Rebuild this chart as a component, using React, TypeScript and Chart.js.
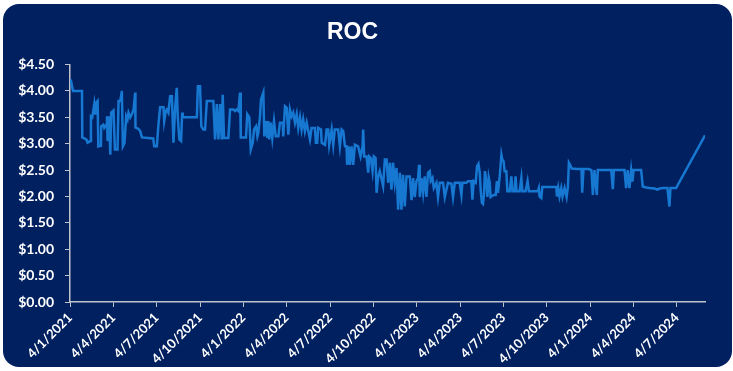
import React, { useEffect, useRef } from "react";
import { Chart, registerables } from "chart.js";

Chart.register(...registerables);

// x positions: months since 4/1/2021 (d/m/yyyy)
const monthOffsets: number[] = [
  0.05, 0.21, 0.83, 0.85, 1.13, 1.22, 1.40, 1.45, 1.54, 1.68,
  1.75, 1.82, 1.91, 1.96, 2.14, 2.16, 2.30, 2.37, 2.51, 2.56,
  2.60, 2.70, 2.79, 2.85, 3.01, 3.11, 3.29, 3.36, 3.48, 3.59,
  3.66, 3.77, 3.89, 3.98, 4.05, 4.17, 4.28, 4.40, 4.51, 4.53,
  4.74, 4.86, 4.98, 5.76, 5.83, 6.01, 6.12, 6.24, 6.47, 6.52,
  6.63, 6.70, 6.81, 6.93, 7.05, 7.16, 7.28, 7.39, 7.46, 7.57,
  7.69, 7.76, 7.81, 8.78, 8.85, 9.00, 9.09, 9.23, 9.35, 9.47,
  9.92, 10.04, 10.16, 10.27, 10.39, 10.50, 10.57, 10.66, 10.96, 11.08,
  11.31, 11.42, 11.54, 11.65, 11.77, 11.82, 12.18, 12.27, 12.41, 12.51,
  12.65, 12.74, 12.88, 12.97, 13.03, 13.15, 13.22, 13.38, 13.45, 13.57,
  13.66, 13.73, 13.79, 13.89, 14.00, 14.12, 14.24, 14.42, 14.53, 14.72,
  14.76, 14.88, 15.00, 15.11, 15.22, 15.34, 15.45, 15.57, 15.69, 15.80,
  15.92, 16.03, 16.14, 16.26, 16.38, 16.61, 16.72, 16.95, 17.02, 17.11,
  17.18, 17.37, 17.42, 17.65, 17.76, 17.87, 17.94, 18.11, 18.22, 18.33,
  18.56, 18.68, 18.80, 18.91, 19.03, 19.14, 19.18, 19.28, 19.37, 19.49,
  19.60, 19.72, 19.94, 20.11, 20.25, 20.29, 20.36, 20.53, 20.64, 20.71,
  20.82, 20.94, 21.03, 21.15, 21.22, 21.33, 21.44, 21.67, 21.79, 21.91,
  22.02, 22.14, 22.25, 22.36, 22.48, 22.60, 22.71, 22.83, 22.94, 23.05,
  23.17, 23.29, 23.52, 23.64, 23.75, 23.86, 23.98, 24.09, 24.16, 24.21,
  24.33, 24.44, 24.55, 24.67, 24.78, 24.90, 24.97, 25.09, 25.18, 25.36,
  25.47, 25.59, 25.82, 25.94, 26.16, 26.40, 26.51, 26.63, 26.97, 27.09,
  27.16, 27.44, 27.55, 27.78, 27.85, 27.94, 28.08, 28.17, 28.27, 28.36,
  28.43, 28.51, 28.58, 28.65, 28.72, 28.82, 28.89, 28.98, 29.05, 29.11,
  29.32, 29.46, 29.55, 29.62, 29.74, 29.86, 29.92, 30.01, 30.08, 30.20,
  30.27, 30.43, 30.55, 30.62, 30.77, 30.84, 30.91, 31.12, 31.24, 31.31,
  31.53, 31.67, 31.76, 32.38, 32.45, 32.50, 32.62, 32.69, 33.66, 33.70,
  33.79, 33.88, 34.00, 34.09, 34.23, 34.37, 34.46, 34.53, 34.65, 34.72,
  35.13, 35.40, 35.45, 35.54, 35.89, 36.09, 36.19, 36.30, 36.46, 36.53,
  37.46, 37.57, 37.64, 38.38, 38.49, 38.60, 38.72, 38.84, 38.93, 39.00,
  39.53, 39.64, 39.88, 40.11, 40.46, 40.66, 40.80, 41.07, 41.35, 41.49,
  41.56, 41.95, 43.95,
];

const rocValues: number[] = [
  4.22, 4.00, 4.00, 3.12, 3.08, 3.02, 3.05, 3.52, 3.50, 3.75,
  3.55, 3.78, 3.81, 2.95, 2.96, 3.33, 3.36, 3.30, 3.36, 3.52,
  3.05, 3.52, 2.79, 3.59, 3.63, 2.89, 2.89, 3.81, 3.81, 4.00,
  2.95, 3.01, 3.52, 3.46, 3.59, 3.50, 3.56, 3.65, 3.97, 3.31,
  3.28, 3.24, 3.12, 3.10, 2.95, 2.95, 3.36, 3.69, 3.69, 3.43,
  3.62, 3.65, 3.59, 3.90, 3.90, 3.02, 3.70, 4.06, 3.50, 3.08,
  3.05, 3.59, 3.50, 3.50, 4.09, 4.09, 3.33, 3.27, 3.27, 3.81,
  3.81, 3.08, 3.75, 3.08, 3.75, 3.08, 3.93, 3.11, 3.11, 3.65,
  3.65, 3.62, 3.65, 3.62, 3.97, 3.12, 3.12, 3.56, 3.50, 2.89,
  3.02, 3.27, 3.33, 3.14, 3.20, 3.52, 3.84, 3.97, 3.14, 3.43,
  3.11, 3.43, 3.08, 3.40, 3.11, 3.43, 3.14, 3.14, 3.40, 3.40,
  3.14, 3.71, 3.68, 3.17, 3.65, 3.52, 3.59, 3.40, 3.56, 3.30,
  3.50, 3.27, 3.46, 3.24, 3.40, 3.08, 3.30, 3.30, 3.02, 3.02,
  3.30, 3.27, 3.02, 2.98, 3.27, 3.27, 2.98, 3.27, 2.98, 3.27,
  3.27, 2.95, 3.27, 3.24, 2.95, 2.95, 2.60, 2.95, 2.60, 2.95,
  2.60, 2.98, 2.95, 2.76, 2.95, 3.27, 2.76, 2.76, 2.45, 2.76,
  2.73, 2.48, 2.76, 2.73, 2.07, 2.38, 2.48, 2.20, 2.70, 2.70,
  2.26, 2.64, 2.13, 2.64, 2.26, 2.54, 1.75, 2.45, 1.75, 2.41,
  1.81, 2.38, 2.38, 1.93, 2.35, 1.99, 2.29, 2.35, 2.60, 1.99,
  2.35, 2.07, 2.38, 1.99, 2.45, 2.48, 2.29, 2.35, 2.16, 2.26,
  1.99, 2.26, 2.26, 1.99, 2.26, 2.24, 1.99, 2.26, 2.26, 2.03,
  2.26, 2.26, 2.29, 2.29, 1.94, 2.29, 2.26, 2.57, 2.62, 2.45,
  2.10, 1.88, 1.86, 2.03, 2.48, 2.26, 1.99, 2.36, 2.26, 1.99,
  2.03, 2.03, 2.29, 2.07, 2.38, 2.79, 2.70, 2.67, 2.48, 2.48,
  2.10, 2.10, 2.38, 2.10, 2.10, 2.38, 2.10, 2.10, 2.35, 2.10,
  2.10, 2.29, 2.10, 2.10, 2.16, 2.00, 1.97, 2.18, 2.18, 2.00,
  2.16, 2.00, 2.16, 2.00, 2.16, 1.99, 2.18, 2.64, 2.58, 2.53,
  2.52, 2.52, 2.07, 2.52, 2.52, 2.50, 2.03, 2.50, 2.03, 2.50,
  2.50, 2.14, 2.50, 2.50, 2.16, 2.50, 2.16, 2.50, 2.28, 2.50,
  2.50, 2.19, 2.17, 2.16, 2.15, 2.13, 2.15, 2.16, 2.16, 1.81,
  2.16, 2.16, 3.16,
];

const tickMonths: number[] = [0, 3, 6, 9, 12, 15, 18, 21, 24, 27, 30, 33, 36, 39, 42];
const tickLabels: string[] = [
  "4/1/2021", "4/4/2021", "4/7/2021", "4/10/2021",
  "4/1/2022", "4/4/2022", "4/7/2022", "4/10/2022",
  "4/1/2023", "4/4/2023", "4/7/2023", "4/10/2023",
  "4/1/2024", "4/4/2024", "4/7/2024",
];
const xMax = 43.95;

const NAVY = "#002060";
const LINE = "#1778d2";
const AXIS = "#c0c4cc";

export default function App() {
  const ref = useRef<HTMLCanvasElement | null>(null);

  useEffect(() => {
    if (!ref.current) return;
    const data = monthOffsets.map((m, i) => ({ x: m, y: rocValues[i] }));
    const chart = new Chart(ref.current, {
      type: "line",
      data: {
        datasets: [
          {
            label: "ROC",
            data,
            borderColor: LINE,
            backgroundColor: LINE,
            borderWidth: 2.5,
            pointRadius: 0,
            tension: 0,
            fill: false,
          },
        ],
      },
      options: {
        responsive: false,
        animation: false,
        devicePixelRatio: 1,
        layout: { padding: { left: 0, right: 28, top: 0, bottom: 0 } },
        plugins: {
          legend: { display: false },
          tooltip: { enabled: false },
          title: {
            display: true,
            text: "ROC",
            color: "#ffffff",
            font: { family: "'Liberation Sans', Arial, sans-serif", size: 23, weight: "bold" },
            padding: { top: 19, bottom: 18 },
          },
        },
        scales: {
          x: {
            type: "linear",
            min: 0,
            max: xMax,
            afterBuildTicks: (axis: any) => {
              axis.ticks = tickMonths.map((v) => ({ value: v }));
            },
            afterFit: (s: any) => {
              s.height = 69;
            },
            ticks: {
              autoSkip: false,
              maxRotation: 45,
              minRotation: 45,
              padding: 3,
              color: "#ffffff",
              font: { family: "Lato, 'Open Sans', sans-serif", size: 13, weight: "bold" },
              callback: (v: any) => {
                const i = tickMonths.indexOf(Number(v));
                return i >= 0 ? tickLabels[i] : "";
              },
            },
            grid: {
              drawOnChartArea: false,
              drawTicks: true,
              tickLength: 5,
              tickColor: AXIS,
            },
            border: { color: AXIS, width: 1.5 },
          },
          y: {
            min: 0,
            max: 4.5,
            afterFit: (s: any) => {
              s.width = 70;
            },
            ticks: {
              stepSize: 0.5,
              padding: 11,
              color: "#ffffff",
              font: { family: "Lato, 'Open Sans', sans-serif", size: 14, weight: "bold" },
              callback: (v: any) => "$" + Number(v).toFixed(2),
            },
            grid: {
              drawOnChartArea: false,
              drawTicks: true,
              tickLength: 5,
              tickColor: AXIS,
            },
            border: { color: AXIS, width: 1.5 },
          },
        },
      },
    });
    return () => chart.destroy();
  }, []);

  return (
    <div style={{ position: "fixed", left: 0, top: 0, width: 733, height: 371, background: "#ffffff" }}>
      <div
        style={{
          position: "absolute",
          left: 3,
          top: 4,
          width: 729,
          height: 363,
          borderRadius: 16,
          background: NAVY,
        }}
      />
      <canvas
        ref={ref}
        width={733}
        height={371}
        style={{ position: "absolute", left: 0, top: 0, width: 733, height: 371 }}
      />
    </div>
  );
}
